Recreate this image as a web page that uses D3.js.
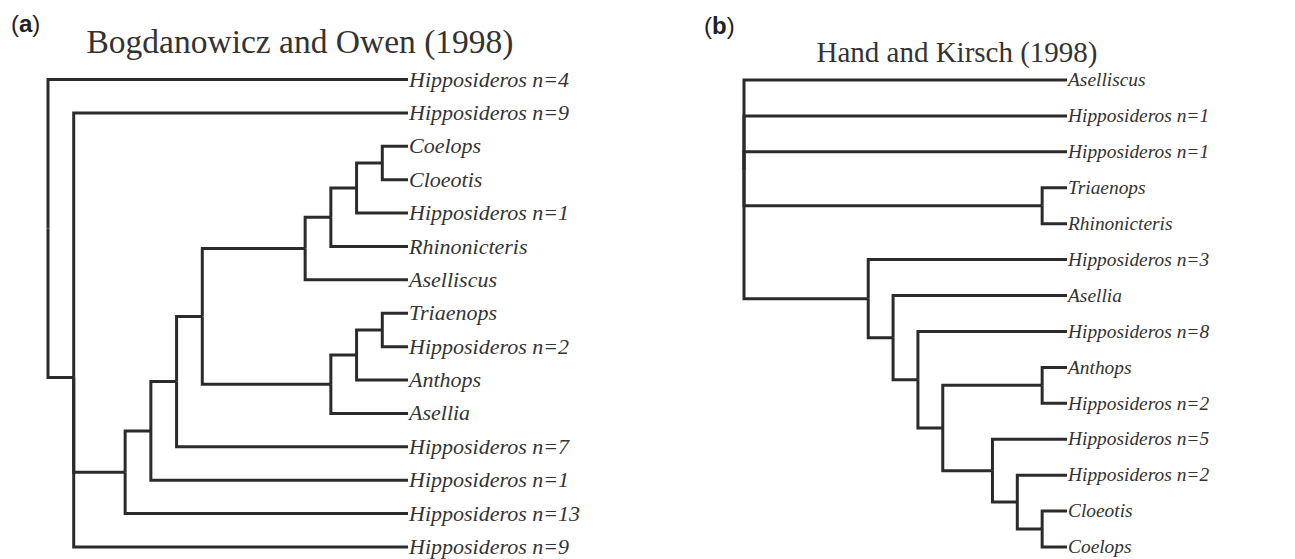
<!DOCTYPE html>
<html>
<head>
<meta charset="utf-8">
<script src="https://d3js.org/d3.v7.min.js"></script>
<style>
  body { margin: 0; background: #fff; }
  .title { font-family: "Liberation Serif", "Times New Roman", serif; fill: #333; }
  .leaf { font-family: "Liberation Serif", "Times New Roman", serif; font-style: italic; fill: #333; }
  .panel { font-family: "Liberation Sans", Arial, sans-serif; fill: #222; }
  .branch { fill: none; stroke: #2b2b2b; stroke-width: 3; stroke-linejoin: miter; }
</style>
</head>
<body>
<div id="chart"></div>
<script>
var svgWidth = 1295;
var svgHeight = 559;

// Tree (a): Bogdanowicz and Owen (1998)
// leaves in top-to-bottom order, with the internal node they hang from
var leftLeaves = ["Hipposideros n=4", "Hipposideros n=9", "Coelops", "Cloeotis", "Hipposideros n=1",
  "Rhinonicteris", "Aselliscus", "Triaenops", "Hipposideros n=2", "Anthops", "Asellia",
  "Hipposideros n=7", "Hipposideros n=1", "Hipposideros n=13", "Hipposideros n=9"];
var leftLeafParents = ["r", "a", "j", "j", "i", "h", "f", "l", "l", "k", "g", "d", "c", "b", "a"];
var leftNodeIds = ["r", "a", "b", "c", "d", "e", "f", "h", "i", "j", "g", "k", "l"];
var leftNodeParents = [null, "r", "a", "b", "c", "d", "e", "f", "h", "i", "e", "g", "k"];
var leftNodeDepths = [0, 1, 3, 4, 5, 6, 10, 11, 12, 13, 11, 12, 13];
var leftLeafDepth = 14;

// Tree (b): Hand and Kirsch (1998)
var rightLeaves = ["Aselliscus", "Hipposideros n=1", "Hipposideros n=1", "Triaenops", "Rhinonicteris",
  "Hipposideros n=3", "Asellia", "Hipposideros n=8", "Anthops", "Hipposideros n=2",
  "Hipposideros n=5", "Hipposideros n=2", "Cloeotis", "Coelops"];
var rightLeafParents = ["R", "R", "R", "P", "P", "Q", "S1", "S2", "U", "U", "V", "W", "X", "X"];
var rightNodeIds = ["R", "P", "Q", "S1", "S2", "T", "U", "V", "W", "X"];
var rightNodeParents = [null, "R", "R", "Q", "S1", "S2", "T", "T", "V", "W"];
var rightNodeDepths = [0, 12, 5, 6, 7, 8, 12, 10, 11, 12];
var rightLeafDepth = 13;

var svg = d3.select("#chart")
  .append("svg")
  .attr("width", svgWidth)
  .attr("height", svgHeight);

// builds the hierarchy from the arrays and draws one cladogram
function drawTree(opts) {
  var rows = [];
  opts.nodeIds.forEach(function(id, i) {
    rows.push({ id: id, parentId: opts.nodeParents[i], depthVal: opts.nodeDepths[i] });
  });
  opts.leaves.forEach(function(name, i) {
    rows.push({ id: "leaf" + i, parentId: opts.leafParents[i], depthVal: opts.leafDepth, name: name, order: i });
  });

  var root = d3.stratify()
    .id(d => d.id)
    .parentId(d => d.parentId)(rows);

  var xScale = d3.scaleLinear()
    .domain([0, opts.leafDepth])
    .range(opts.xRange);

  var yScale = d3.scaleLinear()
    .domain([0, opts.leaves.length - 1])
    .range(opts.yRange);

  // leaves get their row, internal nodes sit at the mean of their children
  root.eachAfter(function(node) {
    node.px = xScale(node.data.depthVal);
    if (node.children) {
      node.py = d3.mean(node.children, c => c.py);
    } else {
      node.py = yScale(node.data.order);
    }
  });

  var g = svg.append("g");

  g.selectAll("path.branch")
    .data(root.descendants().filter(d => d.parent))
    .enter()
    .append("path")
    .attr("class", "branch")
    .attr("d", d => `M${d.parent.px},${d.parent.py}V${d.py}H${d.px}`);

  g.selectAll("text.leaf")
    .data(root.leaves())
    .enter()
    .append("text")
    .attr("class", "leaf")
    .attr("x", d => d.px + 1)
    .attr("y", d => d.py)
    .attr("dy", "0.32em")
    .style("font-size", opts.fontSize + "px")
    .text(d => d.data.name);

  svg.append("text")
    .attr("class", "title")
    .attr("x", opts.titleX)
    .attr("y", opts.titleY)
    .attr("text-anchor", "middle")
    .style("font-size", opts.titleSize + "px")
    .text(opts.title);

  var panel = svg.append("text")
    .attr("class", "panel")
    .attr("x", opts.panelX)
    .attr("y", opts.panelY)
    .style("font-size", "24px");
  panel.append("tspan").text("(");
  panel.append("tspan").style("font-weight", "bold").text(opts.panel);
  panel.append("tspan").text(")");
}

drawTree({
  leaves: leftLeaves, leafParents: leftLeafParents,
  nodeIds: leftNodeIds, nodeParents: leftNodeParents, nodeDepths: leftNodeDepths,
  leafDepth: leftLeafDepth,
  xRange: [48, 408], yRange: [79.5, 547],
  fontSize: 22,
  title: "Bogdanowicz and Owen (1998)", titleX: 300, titleY: 53, titleSize: 33.5,
  panel: "a", panelX: 11, panelY: 32
});

drawTree({
  leaves: rightLeaves, leafParents: rightLeafParents,
  nodeIds: rightNodeIds, nodeParents: rightNodeParents, nodeDepths: rightNodeDepths,
  leafDepth: rightLeafDepth,
  xRange: [744, 1067], yRange: [80, 547],
  fontSize: 19.4,
  title: "Hand and Kirsch (1998)", titleX: 957, titleY: 62, titleSize: 29,
  panel: "b", panelX: 704, panelY: 34
});
</script>
</body>
</html>
